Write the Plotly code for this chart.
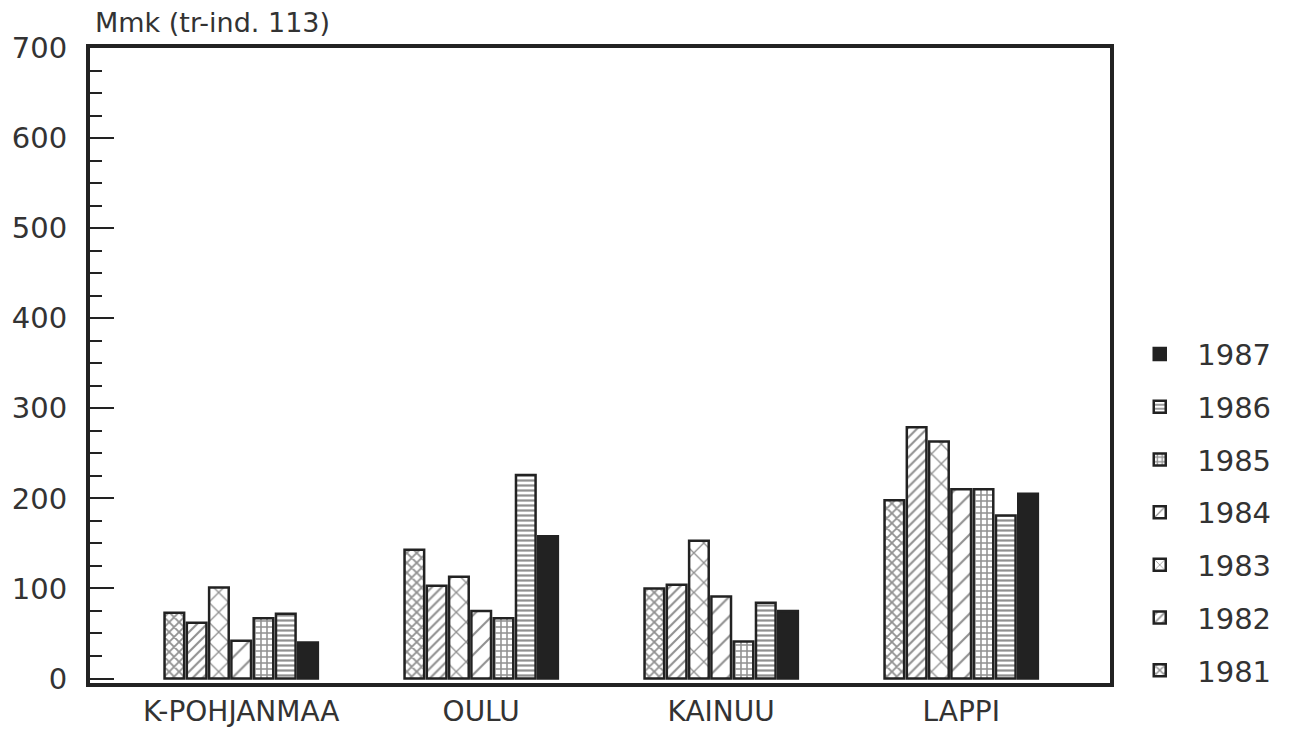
import plotly.graph_objects as go

regions = ["K-POHJANMAA", "OULU", "KAINUU", "LAPPI"]
years = ["1981", "1982", "1983", "1984", "1985", "1986", "1987"]

# Mmk per region, one list per year
v1981 = [73, 143, 100, 198]
v1982 = [62, 103, 104, 279]
v1983 = [101, 113, 153, 263]
v1984 = [42, 75, 91, 210]
v1985 = [67, 67, 41, 210]
v1986 = [72, 226, 84, 181]
v1987 = [40, 158, 75, 205]

values = [v1981, v1982, v1983, v1984, v1985, v1986, v1987]

# hatch look for each year (black ink on white)
patterns = [
    dict(shape="x", size=7, solidity=0.45),
    dict(shape="/", size=7, solidity=0.3),
    dict(shape="x", size=14, solidity=0.18),
    dict(shape="/", size=14, solidity=0.15),
    dict(shape="+", size=6, solidity=0.45),
    dict(shape="-", size=5, solidity=0.45),
    dict(shape="", size=8, solidity=0.2),
]

ink = "#222222"

fig = go.Figure()
for i, (yr, vals, pat) in enumerate(zip(years, values, patterns)):
    solid = pat["shape"] == ""
    fig.add_trace(go.Bar(
        x=list(range(len(regions))),
        y=vals,
        name=yr,
        legendgroup=yr,
        legendrank=100 - i,
        marker=dict(
            color=ink if solid else "white",
            line=dict(color=ink, width=2.5),
            pattern=dict(shape=pat["shape"], size=pat["size"], solidity=pat["solidity"],
                         fgcolor=ink, bgcolor="white", fillmode="overlay"),
        ),
    ))

font = "DejaVu Sans"

fig.update_layout(
    width=1302, height=743,
    margin=dict(l=82, r=200, t=40, b=68),
    paper_bgcolor="white", plot_bgcolor="white",
    barmode="group", bargap=0.35, bargroupgap=0.12,
    font=dict(family=font, size=26, color="#333333"),
    legend=dict(
        x=1.012, xanchor="left", y=-0.02, yanchor="bottom",
        traceorder="grouped", tracegroupgap=12, maxheight=700,
        itemwidth=65,
        font=dict(size=29), bgcolor="rgba(0,0,0,0)",
    ),
    annotations=[dict(
        text="Mmk (tr-ind. 113)", xref="paper", yref="paper",
        x=0.003, y=1.0, xanchor="left", yanchor="bottom", yshift=8,
        showarrow=False, font=dict(size=27, color="#333333"),
    )],
)

fig.update_xaxes(
    range=[-0.63, 3.62], automargin=False,
    tickmode="array", tickvals=list(range(len(regions))), ticktext=regions,
    showline=True, linewidth=4, linecolor=ink, mirror=True,
    ticks="", showgrid=False, zeroline=False,
    tickfont=dict(size=28),
)
fig.update_yaxes(
    range=[-5, 700], tick0=0, dtick=100, automargin=False,
    showline=True, linewidth=4, linecolor=ink, mirror=True,
    ticks="inside", ticklen=24, tickwidth=2, tickcolor=ink,
    minor=dict(ticks="inside", ticklen=12, tick0=0, dtick=25, tickwidth=2, tickcolor=ink),
    showgrid=False, zeroline=False, ticklabelstandoff=13,
    tickfont=dict(size=29),
)

fig.write_html("out.html")
